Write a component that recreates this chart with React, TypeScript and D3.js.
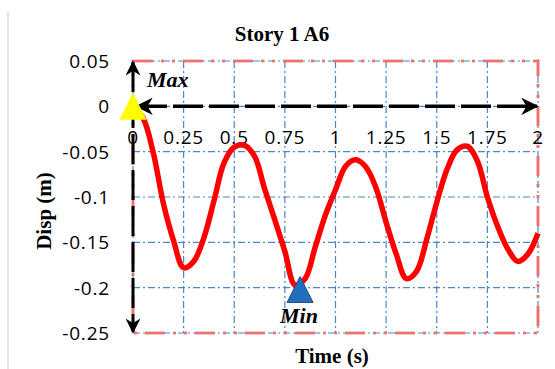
import * as d3 from 'd3';

// time history of the roof displacement
const timeS = [0, 0.05, 0.1, 0.15, 0.2, 0.25, 0.3, 0.35, 0.4, 0.45, 0.5, 0.55, 0.6, 0.65, 0.7, 0.75, 0.8, 0.85, 0.9, 0.95, 1.0,
  1.05, 1.1, 1.15, 1.2, 1.25, 1.3, 1.35, 1.4, 1.45, 1.5, 1.55, 1.6, 1.65, 1.7, 1.75, 1.8, 1.85, 1.9, 1.95, 2.0];
const dispM = [0, -0.013, -0.051, -0.107, -0.148, -0.178, -0.171, -0.145, -0.104, -0.062, -0.045, -0.043, -0.055, -0.091, -0.125, -0.16,
  -0.197, -0.19, -0.155, -0.12, -0.092, -0.066, -0.059, -0.067, -0.09, -0.128, -0.163, -0.19, -0.182, -0.147, -0.106, -0.07, -0.048,
  -0.044, -0.06, -0.1, -0.132, -0.157, -0.171, -0.163, -0.14];

const xTicks = [0, 0.25, 0.5, 0.75, 1, 1.25, 1.5, 1.75, 2];
const yTicks = [0.05, 0, -0.05, -0.1, -0.15, -0.2, -0.25];

const maxPoint = { t: 0, d: 0, label: 'Max' };
const minPoint = { t: 0.825, d: -0.202, label: 'Min' };

const W = 555;
const H = 369;
const left = 133, right = 538, top = 61, bottom = 333;

const tickFont = '"Open Sans", sans-serif';
const serif = '"Liberation Serif", serif';

function App() {
  const x = d3.scaleLinear().domain([0, 2]).range([left, right]);
  const y = d3.scaleLinear().domain([-0.25, 0.05]).range([bottom, top]);

  const pts: [number, number][] = timeS.map((t, i) => [t, dispM[i]]);
  const line = d3.line<[number, number]>()
    .x(d => x(d[0]))
    .y(d => y(d[1]))
    .curve(d3.curveCatmullRom.alpha(0.5));

  const fmt = (v: number) => (v === 0 ? '0' : String(+v.toFixed(2)));

  const grid = '#4a86c8';
  const gridDash = '7,3,2,3';
  const borderDash = '20,8,3,8,3,8';

  const tri = (cx: number, cy: number, s: number) =>
    `M${cx},${cy - s / 2} L${cx + s / 2},${cy + s / 2} L${cx - s / 2},${cy + s / 2} Z`;

  return (
    <svg width={W} height={H} style={{ position: 'absolute', left: 0, top: 0, background: '#fff' }}>
      <defs>
        <marker id="arr" viewBox="0 0 10 10" refX="9" refY="5" markerWidth="5" markerHeight="5"
          markerUnits="strokeWidth" orient="auto-start-reverse">
          <path d="M0,0 L10,5 L0,10 L3,5 Z" fill="#000" />
        </marker>
      </defs>
      <rect x={7} y={12} width={2} height={H - 12} fill="#e3e3e3" />

      {/* title */}
      <text x={282} y={41} textAnchor="middle" fontFamily={serif} fontWeight="bold" fontSize={21}>Story 1 A6</text>

      {/* grid */}
      <g stroke={grid} strokeWidth={1.2} strokeDasharray={gridDash} fill="none">
        {xTicks.map(t => (
          <line key={'gx' + t} x1={x(t)} x2={x(t)} y1={top} y2={bottom} />
        ))}
        {yTicks.map(t => (
          <line key={'gy' + t} x1={left} x2={right} y1={y(t)} y2={y(t)} />
        ))}
      </g>

      {/* plot border */}
      <rect x={left} y={top} width={right - left} height={bottom - top} fill="none"
        stroke="#e32626" strokeWidth={2.6} strokeDasharray={borderDash} />
      <rect x={left} y={top} width={right - left} height={bottom - top} fill="none"
        stroke="#fff" strokeWidth={0.7} strokeDasharray={borderDash} />

      {/* tick labels */}
      <g fontFamily={tickFont} fontSize={19} letterSpacing={0.8} fill="#000">
        {yTicks.map(t => (
          <text key={'ly' + t} x={110} y={y(t) + 7} textAnchor="end">{fmt(t)}</text>
        ))}
        {xTicks.map(t => (
          <text key={'lx' + t} x={x(t)} y={y(0) + 38} textAnchor="middle">{fmt(t)}</text>
        ))}
      </g>

      {/* axes arrows */}
      <line x1={left} x2={left} y1={top + 1} y2={bottom - 1} stroke="#000" strokeWidth={3}
        strokeDasharray="30,6" markerStart="url(#arr)" markerEnd="url(#arr)" />
      <line x1={left + 4} x2={right - 1} y1={y(0)} y2={y(0)} stroke="#000" strokeWidth={3.5}
        strokeDasharray="30,6" markerStart="url(#arr)" markerEnd="url(#arr)" />

      {/* displacement curve */}
      <path d={line(pts) ?? ''} fill="none" stroke="#ff0000" strokeWidth={5.5} strokeLinejoin="round" />

      {/* max / min markers */}
      <path d={tri(x(maxPoint.t), y(maxPoint.d), 27)} fill="#ffff00" />
      <path d={tri(x(minPoint.t), y(minPoint.d), 26)} fill="#1f6fbf" stroke="#2c4f7c" strokeWidth={1} />
      <text x={147} y={87} fontFamily={serif} fontWeight="bold" fontStyle="italic" fontSize={22}>{maxPoint.label}</text>
      <text x={280} y={323} fontFamily={serif} fontWeight="bold" fontStyle="italic" fontSize={22}>{minPoint.label}</text>

      {/* axis titles */}
      <text x={332} y={363} textAnchor="middle" fontFamily={serif} fontWeight="bold" fontSize={21}>Time (s)</text>
      <text transform="translate(51,211) rotate(-90)" textAnchor="middle" fontFamily={serif} fontWeight="bold" fontSize={21}>Disp (m)</text>
    </svg>
  );
}

export default App;
